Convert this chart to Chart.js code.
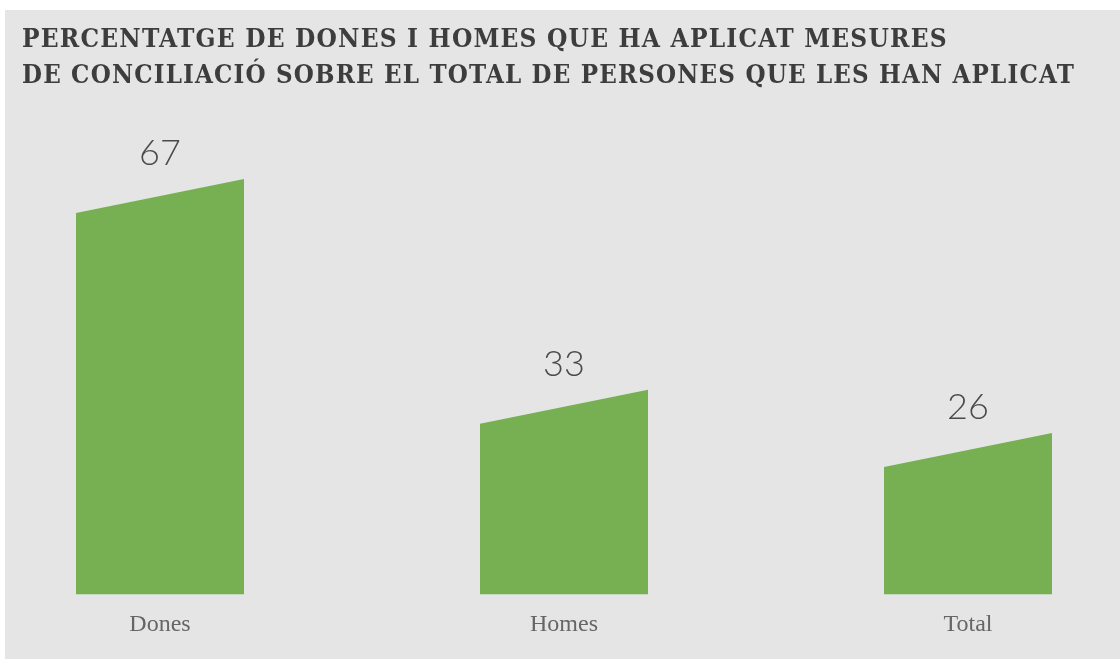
<!DOCTYPE html>
<html>
<head>
<meta charset="utf-8">
<script src="https://cdn.jsdelivr.net/npm/chart.js@4"></script>
<style>
    html, body { margin: 0; padding: 0; background: #ffffff; }
    #wrap { width: 1120px; height: 659px; position: relative; }
</style>
</head>
<body>
<div id="wrap"><canvas id="barChart"></canvas></div>
<script>
const titleLines = [
    'PERCENTATGE DE DONES I HOMES QUE HA APLICAT MESURES',
    'DE CONCILIACIÓ SOBRE EL TOTAL DE PERSONES QUE LES HAN APLICAT'
];
const categories = ['Dones', 'Homes', 'Total'];
const values = [67, 33, 26];

const barColor = '#76b052';
const panelColor = '#e5e5e5';
const slant = 34;

// grey panel + title
const panelPlugin = {
    id: 'panel',
    beforeDraw(chart) {
        const ctx = chart.ctx;
        ctx.save();
        ctx.fillStyle = panelColor;
        ctx.fillRect(5, 10, chart.width - 5, chart.height - 10);
        ctx.fillStyle = '#3d3d3d';
        ctx.font = 'bold 26px "DejaVu Serif Condensed", "DejaVu Serif"';
        ctx.letterSpacing = '1.2px';
        ctx.textAlign = 'left';
        ctx.textBaseline = 'alphabetic';
        ctx.fillText(titleLines[0], 22, 47, 953);
        ctx.fillText(titleLines[1], 22, 83, 1053);
        ctx.restore();
    }
};

// bars with a slanted top, plus the value above each one
const slantBars = {
    id: 'slantBars',
    afterDatasetsDraw(chart) {
        const ctx = chart.ctx;
        const meta = chart.getDatasetMeta(0);
        ctx.save();
        meta.data.forEach((el, i) => {
            const p = el.getProps(['x', 'y', 'base', 'width'], true);
            const l = p.x - p.width / 2;
            const r = p.x + p.width / 2;
            ctx.fillStyle = barColor;
            ctx.beginPath();
            ctx.moveTo(l, p.base);
            ctx.lineTo(l, p.y + slant);
            ctx.lineTo(r, p.y);
            ctx.lineTo(r, p.base);
            ctx.closePath();
            ctx.fill();

            ctx.fillStyle = '#4a4a4a';
            ctx.font = '300 36px Lato';
            ctx.textAlign = 'center';
            ctx.textBaseline = 'alphabetic';
            ctx.fillText(String(values[i]), p.x, p.y - 14);
        });
        ctx.restore();
    }
};

new Chart(document.getElementById('barChart'), {
    type: 'bar',
    data: {
        labels: categories,
        datasets: [
            {
                data: values,
                backgroundColor: 'rgba(0,0,0,0)',
                borderWidth: 0,
                barThickness: 168,
            },
        ]
    },
    options: {
        responsive: true,
        maintainAspectRatio: false,
        animation: false,
        layout: {
            padding: { top: 129.5, left: 160, right: 152, bottom: 12 }
        },
        scales: {
            x: {
                offset: false,
                grid: { display: false },
                border: { display: false },
                ticks: {
                    color: '#666666',
                    padding: 8,
                    maxRotation: 0,
                    font: { family: '"Liberation Serif"', size: 24 }
                }
            },
            y: {
                display: false,
                min: 0,
                max: 75
            }
        },
        plugins: {
            legend: { display: false },
            tooltip: { enabled: false }
        }
    },
    plugins: [panelPlugin, slantBars]
});
</script>
</body>
</html>
